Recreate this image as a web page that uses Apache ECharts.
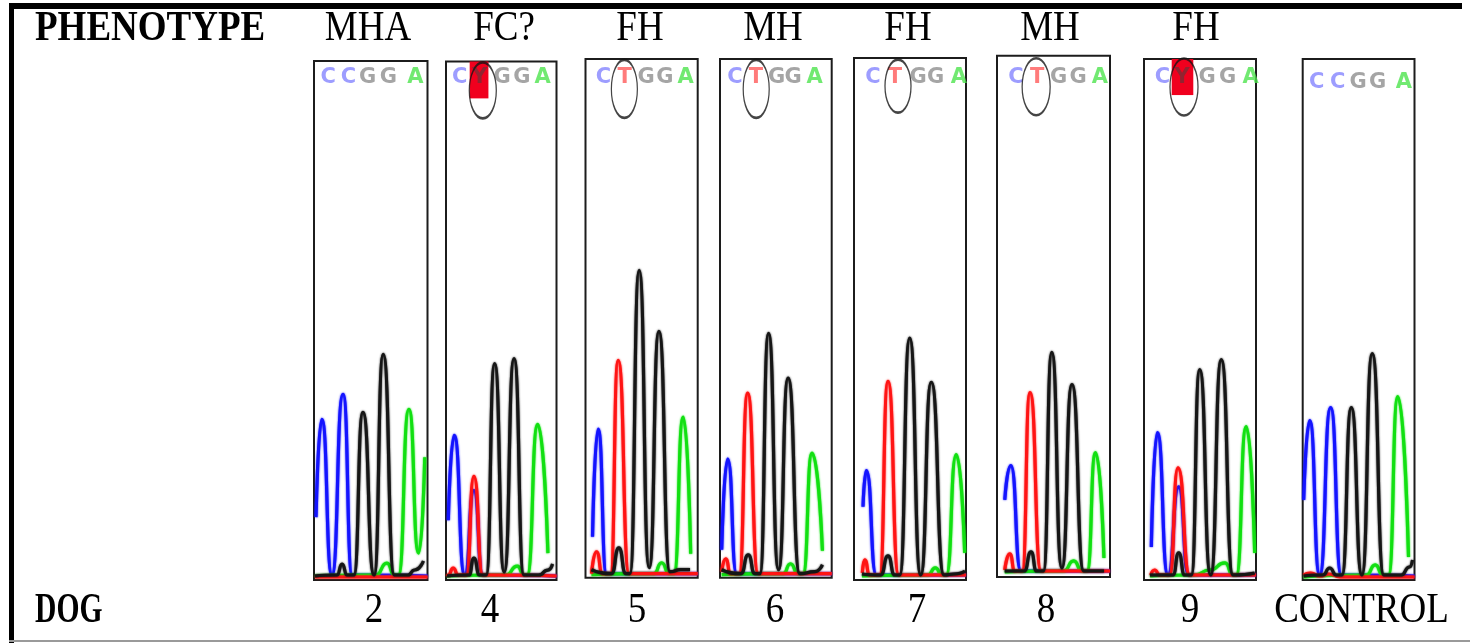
<!DOCTYPE html>
<html>
<head>
<meta charset="utf-8">
<script src="https://cdn.jsdelivr.net/npm/echarts@6/dist/echarts.min.js"></script>
<style>
  html, body { margin: 0; padding: 0; background: #fff; }
  #chart { width: 1470px; height: 643px; }
</style>
</head>
<body>
<div id="chart"></div>
<script>
// Sequencing chromatograms, one panel per dog, around the C->T site.
const dogs = ['2', '4', '5', '6', '7', '8', '9', 'CONTROL'];
const phenotypes = ['MHA', 'FC?', 'FH', 'MH', 'FH', 'MH', 'FH', ''];

// Base calls shown over each trace and the scan position of each call.
const baseCalls = ['CCGGA', 'CYGGA', 'CTGGA', 'CTGGA', 'CTGGA', 'CTGGA', 'CYGGA', 'CCGGA'];
const callScans = [
  [14, 34, 53, 73.5, 100],
  [14, 34, 57, 77, 98],
  [18, 39, 60.6, 79.3, 100],
  [15, 36, 56.7, 73.3, 95],
  [19, 41, 64, 81.7, 105],
  [18.8, 39.7, 61, 80.5, 102],
  [18.5, 38, 63, 83.5, 106.7],
  [14, 35, 55.6, 75, 101.3]
];
const callLevel = [503, 504, 501, 501, 501, 498, 501, 496];

// Ambiguous (Y) call highlight: [scanFrom, scanTo, levelFrom, levelTo]
const ambiguousCall = [null, [24, 43, 483, 520], null, null, null, null, [27.7, 49.3, 484, 520], null];
// Circled call: [scan, level, width, height]
const circledCall = [null, [37.3, 491, 27, 56], [38.8, 490, 26, 58], [36.3, 490, 26, 58],
  [44, 492, 26, 53], [38.8, 489, 28, 57], [40, 492, 28, 57], null];

// Dye traces, [scan, signal] per panel (C = blue, T = red, G = black, A = green).
const traceC = [
  [[2,63],[7.7,161],[17.7,5],[28.7,186],[37.7,5],[112,4]],
  [[2.3,60],[8.3,145],[19,5],[28.3,90],[37.3,5],[112,4]],
  [[7,41],[12.6,149],[21,4],[112,4]],
  [[1.7,28],[7.7,119],[16.7,4],[112,4]],
  [[9,73],[12.3,109],[22.3,5],[112,5]],
  [[7.7,77],[13.7,111],[23.7,6],[112,6]],
  [[7.3,33],[13.3,147],[24,5],[34.7,93],[44.7,5],[112,5]],
  [[1,80],[7,159],[17,5],[28,172],[38.7,5],[112,4]]
];
const traceT = [
  [[1,3],[112,3]],
  [[1,4],[2.3,5],[7.3,12],[12.3,5],[20.7,5],[28.3,104],[37.3,5],[112,4]],
  [[6,4],[11,26],[17,4],[25,4],[32.6,218],[43.6,4],[112,4]],
  [[1.7,6],[5.7,19],[10.7,4],[19.3,4],[27.7,185],[38.3,4],[112,4]],
  [[8.3,7],[10.7,20],[15.7,5],[25.7,5],[34,198],[44.7,5],[112,5]],
  [[7.7,7],[12.7,23],[17.7,6],[25,6],[32.7,184],[43.7,6],[112,6]],
  [[6.7,5],[10.7,10],[15.7,5],[25.7,5],[34,112],[45.7,5],[112,5]],
  [[1,5],[8,7],[17,4],[26,6],[38,3],[112,3]]
];
const traceG = [
  [[1,4],[22.7,5],[27.7,16],[32.7,5],[39.3,5],[48.3,168],[59.3,5],[68.3,226],[79.3,5],[92.7,5],[99.3,10],[108,19]],
  [[1,4],[23.3,5],[28.3,22],[34,5],[40.7,5],[49.3,217],[59,8],[69,222],[79,5],[94,5],[103.3,10],[108,16]],
  [[6,8],[26,4],[33.3,30],[40.3,4],[44.3,4],[53.6,308],[63.6,10],[73.3,247],[84.3,6],[95,8],[104.3,8]],
  [[1.7,8],[21,4],[28.3,23],[35,4],[40,4],[48.7,245],[58.7,8],[68.3,200],[80,4],[95,6],[102.7,13]],
  [[8,6],[26.7,5],[34,24],[40.7,5],[45.7,5],[55.7,241],[66.7,5],[77.3,197],[90,5],[100,6],[111,9]],
  [[7.7,6],[27,6],[33.7,25],[39.3,6],[46,6],[54.3,224],[64.3,9],[74.3,192],[86,6],[106,6]],
  [[6,5],[29,5],[34.7,27],[40.7,5],[47.3,5],[55.7,210],[66.7,5],[77.3,220],[89,5],[110.7,7]],
  [[1,4],[20.3,5],[27,12],[33.7,5],[39.3,5],[48.7,172],[59.3,5],[69.7,226],[81.3,5],[98.7,5],[107,13],[110,20]]
];
const traceA = [
  [[1,4],[61,5],[72,17],[79.3,5],[83.3,5],[93.7,171],[103.3,27],[109.3,123]],
  [[1,4],[60.7,5],[72.3,14],[79,5],[82.3,5],[93,156],[103.3,27]],
  [[6,3],[68.3,4],[76,15],[83.6,4],[88.3,4],[97.6,161],[105,24]],
  [[1.7,3],[63.3,4],[70.7,14],[78.3,4],[83.3,4],[92.3,125],[102.7,27]],
  [[8,4],[74,5],[81.3,12],[88,5],[92.3,5],[102.3,125],[110.7,27]],
  [[7.7,5],[66,6],[76,16],[84.3,6],[89.3,6],[97.7,124],[106,19]],
  [[6,4],[50.7,5],[65.7,10],[81,17],[89,5],[92.3,5],[102.3,153],[110.7,27]],
  [[1,3],[63.7,5],[72.7,15],[80.3,5],[86,5],[95.3,183],[106,23]]
];

// Panel frames in page pixels: [left, top, right, bottom]
const frames = [
  [314, 61, 427.5, 580], [446, 61.5, 556.5, 580], [585.5, 59, 697.7, 577.7], [720, 59, 831.7, 577.7],
  [854, 58, 966, 580], [997, 55.7, 1110, 577], [1144, 59, 1256, 580], [1302.7, 59, 1414.5, 580]
];
const phenotypeX = [368, 504, 640, 773, 908, 1050, 1196];
const dogX = [374, 490, 637, 775, 917, 1046, 1190, 1361.5];

const dyeColor = { C: '#1414ff', T: '#ff1414', G: '#161616', A: '#12e012' };
const callColor = { C: '#8484ff', G: '#8e8e8e', A: '#4ee44e', T: '#ff5a5a', Y: '#7a2c34' };

const grids = [], xAxes = [], yAxes = [], series = [];
frames.forEach((f, i) => {
  grids.push({
    left: f[0], top: f[1], width: f[2] - f[0], height: f[3] - f[1],
    show: true, borderColor: '#1c1c1c', borderWidth: 2, backgroundColor: 'rgba(0,0,0,0)'
  });
  xAxes.push({ gridIndex: i, type: 'value', min: 0, max: 112, show: false });
  yAxes.push({ gridIndex: i, type: 'value', min: 0, max: 520, show: false });

  // black drawn last so it sits on top along the baseline
  const traces = [['C', traceC], ['A', traceA], ['T', traceT], ['G', traceG]];
  traces.forEach(([dye, set]) => {
    series.push({
      type: 'line', xAxisIndex: i, yAxisIndex: i, data: set[i],
      showSymbol: false, smooth: 0.6, smoothMonotone: 'x', clip: true,
      lineStyle: {
        color: dyeColor[dye], width: 3.2,
        shadowBlur: 2, shadowColor: dyeColor[dye]
      },
      z: 2, silent: true
    });
  });

  const amb = ambiguousCall[i];
  if (amb) {
    series.push({
      type: 'scatter', xAxisIndex: i, yAxisIndex: i, data: [], z: 1, silent: true,
      markArea: {
        silent: true,
        itemStyle: { color: '#f0001e', opacity: 1 },
        data: [[{ xAxis: amb[0], yAxis: amb[2] }, { xAxis: amb[1], yAxis: amb[3] }]]
      }
    });
  }

  series.push({
    type: 'scatter', xAxisIndex: i, yAxisIndex: i, z: 3, silent: true,
    symbolSize: 1, itemStyle: { color: 'rgba(0,0,0,0)' },
    data: baseCalls[i].split('').map((b, j) => ({
      value: [callScans[i][j], callLevel[i]],
      label: {
        show: true, position: 'inside', formatter: b, color: callColor[b],
        fontFamily: 'DejaVu Sans', fontWeight: 'bold', fontSize: 21
      }
    }))
  });

  const circ = circledCall[i];
  if (circ) {
    series.push({
      type: 'scatter', xAxisIndex: i, yAxisIndex: i, z: 4, silent: true,
      symbol: 'circle', symbolSize: [circ[2], circ[3]],
      itemStyle: { color: 'rgba(0,0,0,0)', borderColor: '#151515', borderWidth: 1.8 },
      data: [[circ[0], circ[1]]]
    });
  }
});

const serif = '"Liberation Serif", "Times New Roman", serif';
const textEl = (str, x, y, bold, align, sx) => ({
  type: 'text', x: x, y: y, scaleX: sx || 1, scaleY: 1.14, silent: true,
  style: {
    text: str, fill: '#000', textAlign: align, textVerticalAlign: 'middle',
    font: (bold ? 'bold ' : '') + '37px ' + serif
  }
});

const graphics = [
  { type: 'rect', silent: true, shape: { x: 9, y: 3, width: 5, height: 640 }, style: { fill: '#000' } },
  { type: 'rect', silent: true, shape: { x: 9, y: 3, width: 1453, height: 6 }, style: { fill: '#000' } },
  { type: 'rect', silent: true, shape: { x: 9, y: 640, width: 1461, height: 2 }, style: { fill: '#9a9a9a' } },
  textEl('PHENOTYPE', 35, 29, true, 'left'),
  textEl('DOG', 35, 611, true, 'left', 0.8)
];
phenotypes.forEach((p, i) => { if (p) graphics.push(textEl(p, phenotypeX[i], 29, false, 'center')); });
dogs.forEach((d, i) => graphics.push(textEl(d, dogX[i], 611, false, 'center')));

const chart = echarts.init(document.getElementById('chart'), null, { renderer: 'canvas' });
chart.setOption({
  animation: false,
  backgroundColor: '#fff',
  grid: grids,
  xAxis: xAxes,
  yAxis: yAxes,
  series: series,
  graphic: { elements: graphics }
});
</script>
</body>
</html>
